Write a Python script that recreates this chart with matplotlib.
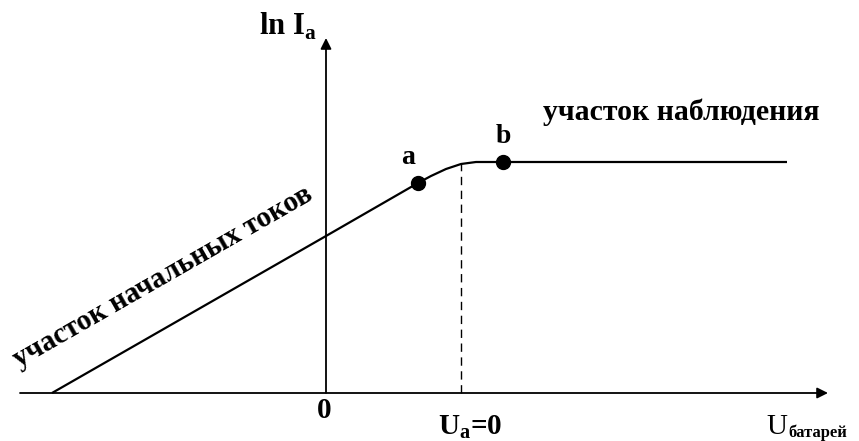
import matplotlib.pyplot as plt

# characteristic: ln I_a vs battery voltage
curve_u = [-2.74, 0.0, 0.92, 1.05, 1.20, 1.35, 1.50, 1.77, 4.61]
curve_ln_i = [0.0, 1.57, 2.10, 2.17, 2.24, 2.29, 2.31, 2.31, 2.31]
point_names = ["a", "b"]
point_u = [0.92, 1.77]
point_ln_i = [2.10, 2.31]
ua_zero = 1.35

plt.rcParams['font.family'] = ['Liberation Serif', 'DejaVu Serif']

fig = plt.figure(figsize=(8.59, 4.41), dpi=100)
ax = fig.add_axes([0, 0, 1, 1])
ax.set_xlim(-3.26, 5.33)
ax.set_ylim(-0.48, 3.93)
ax.axis('off')

# axes with arrows
arrow = dict(arrowstyle='-|>', color='black', lw=1.3, mutation_scale=16,
             shrinkA=0, shrinkB=0)
ax.annotate('', xy=(5.02, 0), xytext=(-3.06, 0), arrowprops=arrow)
ax.annotate('', xy=(0.0, 3.55), xytext=(0.0, 0), arrowprops=arrow)

ax.plot(curve_u, curve_ln_i, color='black', lw=1.6, solid_capstyle='butt')
ax.plot(point_u, point_ln_i, 'o', color='black', ms=10)
ax.plot([ua_zero, ua_zero], [0, 2.29], color='black', lw=1, dashes=(6, 4))

ax.text(point_u[0] - 0.10, point_ln_i[0] + 0.13, point_names[0],
        fontsize=20, ha='center', va='bottom', fontweight='bold')
ax.text(point_u[1], point_ln_i[1] + 0.13, point_names[1],
        fontsize=20, ha='center', va='bottom', fontweight='bold')

ax.text(-0.38, 3.67, r'ln I$_\mathregular{a}$', fontsize=22, ha='center',
        va='center', fontweight='bold')
ax.text(-0.02, -0.17, '0', fontsize=21, ha='center', va='center', fontweight='bold')
ax.text(1.44, -0.345, r'U$_\mathregular{a}$=0', fontsize=21, ha='center',
        va='center', fontweight='bold')
ax.text(4.40, -0.34, 'U', fontsize=21, ha='left', va='center')
ax.text(4.62, -0.40, 'батарей', fontsize=12, ha='left', va='center',
        fontweight='bold')

ax.text(2.17, 2.81, 'участок наблюдения', fontsize=21.5, ha='left',
        va='center', fontweight='bold')
ax.text(-3.04, 0.20, 'участок начальных токов', fontsize=21, ha='left',
        va='bottom', rotation=29.8, rotation_mode='anchor', fontweight='bold')

fig.savefig('out.png', dpi=100)
